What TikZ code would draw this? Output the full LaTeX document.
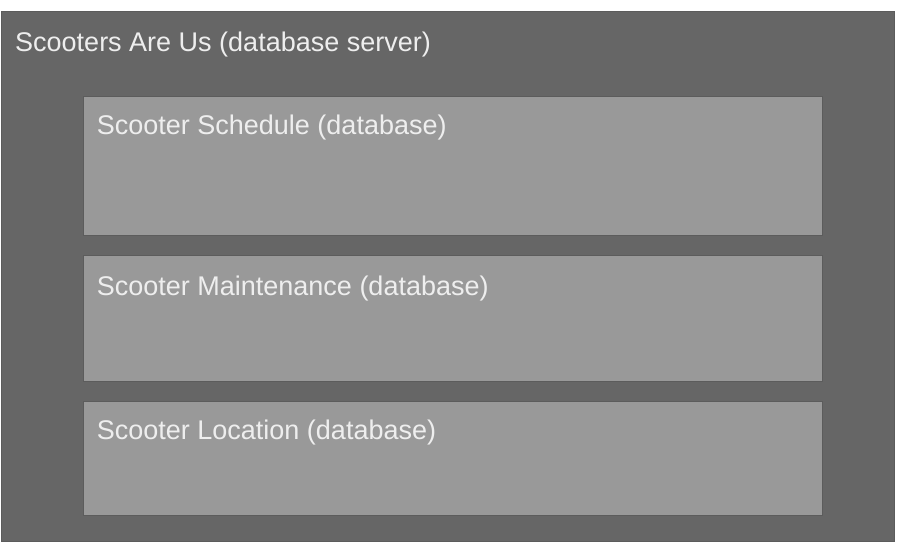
\documentclass[tikz,border=0pt]{standalone}
\usepackage{fontspec}
\setmainfont{Liberation Sans}
\definecolor{serverfill}{HTML}{666666}
\definecolor{dbfill}{HTML}{999999}
\definecolor{edgegray}{HTML}{5C5C5C}
\definecolor{labeltext}{HTML}{EEEEEE}
\tikzset{
  serverbox/.style={draw=edgegray, fill=serverfill, line width=0.8pt, inner sep=0pt},
  dbbox/.style={draw=edgegray, fill=dbfill, line width=1pt, inner sep=0pt, minimum width=739pt},
  boxlabel/.style={anchor=base west, inner sep=0pt, text=labeltext, font=\fontsize{27}{32}\selectfont}
}
\begin{document}
\begin{tikzpicture}[x=1pt,y=1pt]
    \useasboundingbox (0,0) rectangle (900,548);
    % server and its databases
    \node[serverbox, minimum width=893pt, minimum height=530.5pt] (server) at (447.5,271.75) {};
    \node[dbbox, minimum height=139pt] (schedule) at (452.5,381.5) {};
    \node[dbbox, minimum height=126pt] (maintenance) at (452.5,229) {};
    \node[dbbox, minimum height=114pt] (location) at (452.5,89) {};
    % titles
    \node[boxlabel] (servertitle) at (15,496.5) {Scooters Are Us (database server)};
    \node[boxlabel] (scheduletitle) at (96.7,413) {Scooter Schedule (database)};
    \node[boxlabel] (maintenancetitle) at (96.7,252) {Scooter Maintenance (database)};
    \node[boxlabel] (locationtitle) at (96.7,108) {Scooter Location (database)};
\end{tikzpicture}
\end{document}
